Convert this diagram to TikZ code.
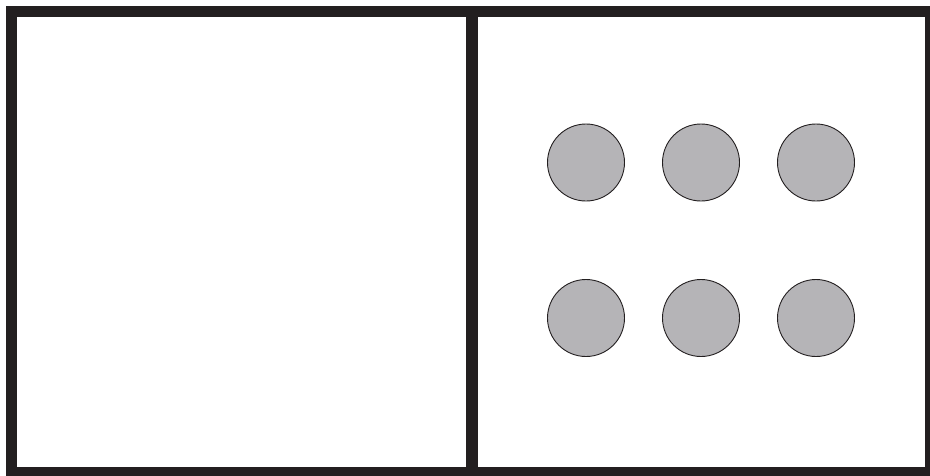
\documentclass[tikz,border=0pt]{standalone}
\definecolor{frame}{RGB}{35,31,32}
\definecolor{dot}{RGB}{181,180,183}
\begin{document}
\begin{tikzpicture}[x=1pt,y=-1pt,
  panel/.style={draw=frame,line width=11pt},
  ball/.style={circle,draw=frame,line width=0.9pt,fill=dot,minimum size=77pt,inner sep=0pt}]
\useasboundingbox (0,0) rectangle (930,475);
\draw[panel] (11,11.5) rectangle (472,472);
\draw[panel] (471.5,11) rectangle (930.5,472);
\node[ball] (a1) at (586,162.5) {};
\node[ball] (a2) at (701,162.5) {};
\node[ball] (a3) at (816,162.5) {};
\node[ball] (b1) at (586,318) {};
\node[ball] (b2) at (701,318) {};
\node[ball] (b3) at (816,318) {};
\end{tikzpicture}
\end{document}
